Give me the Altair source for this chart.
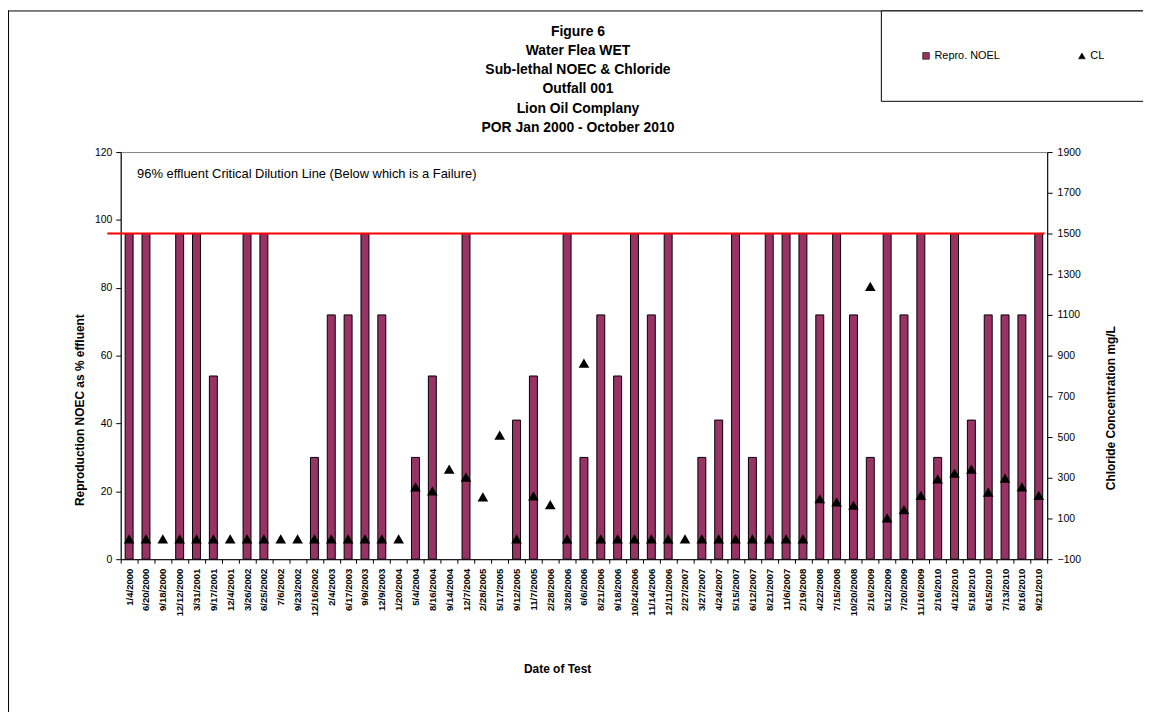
import altair as alt
import pandas as pd

# ---------------- data ----------------
dates = [
    "1/4/2000", "6/20/2000", "9/18/2000", "12/12/2000", "3/31/2001", "9/17/2001",
    "12/4/2001", "3/26/2002", "6/25/2002", "7/6/2002", "9/23/2002", "12/16/2002",
    "2/4/2003", "6/17/2003", "9/9/2003", "12/9/2003", "1/20/2004", "5/4/2004",
    "8/16/2004", "9/14/2004", "12/7/2004", "2/28/2005", "5/17/2005", "9/12/2005",
    "11/7/2005", "2/28/2006", "3/28/2006", "6/6/2006", "8/21/2006", "9/18/2006",
    "10/24/2006", "11/14/2006", "12/11/2006", "2/27/2007", "3/27/2007", "4/24/2007",
    "5/15/2007", "6/12/2007", "8/21/2007", "11/6/2007", "2/19/2008", "4/22/2008",
    "7/15/2008", "10/20/2008", "2/16/2009", "5/12/2009", "7/20/2009", "11/16/2009",
    "2/16/2010", "4/12/2010", "5/18/2010", "6/15/2010", "7/13/2010", "8/16/2010",
    "9/21/2010",
]
noec = [
    96, 96, None, 96, 96, 54,
    None, 96, 96, None, None, 30,
    72, 72, 96, 72, None, 30,
    54, None, 96, None, None, 41,
    54, None, 96, 30, 72, 54,
    96, 72, 96, None, 30, 41,
    96, 30, 96, 96, 96, 72,
    96, 72, 30, 96, 72, 96,
    30, 96, 41, 72, 72, 72,
    96,
]
chloride = [
    0, 0, 0, 0, 0, 0,
    0, 0, 0, 0, 0, 0,
    0, 0, 0, 0, 0, 255,
    235, 343, 303, 206, 509, 0,
    211, 168, 0, 863, 0, 0,
    0, 0, 0, 0, 0, 0,
    0, 0, 0, 0, 0, 197,
    181, 165, 1240, 103, 144, 213,
    295, 323, 343, 230, 298, 255,
    213,
]
series_names = ["Repro. NOEL", "CL"]
series_colors = ["#993366", "#000000"]
critical_line = [96]
left_ticks = [0, 20, 40, 60, 80, 100, 120]
right_ticks = [-100, 100, 300, 500, 700, 900, 1100, 1300, 1500, 1700, 1900]
title_lines = [
    "Figure 6",
    "Water Flea WET",
    "Sub-lethal NOEC & Chloride",
    "Outfall 001",
    "Lion Oil Complany",
    "POR  Jan 2000 - October 2010",
]
annotation = ["96% effluent Critical Dilution Line (Below which is a  Failure)"]
x_title = "Date of Test"
y_left_title = "Reproduction NOEC as % effluent"
y_right_title = "Chloride Concentration mg/L"

FONT = "Liberation Sans"
W, H = 933, 410
OX, OY = 121.5, 150.6          # plot origin on the page
PAD_L, PAD_T = OX - 8, OY - 8   # chart starts at the 8px page margin

df = pd.DataFrame({"date": dates, "noec": noec, "chloride": chloride})
bar_df = df.dropna(subset=["noec"]).assign(series=series_names[0])
pt_df = df.assign(series=series_names[1])

legend = alt.Legend(
    title=None, orient="none", legendX=887 - OX, legendY=8 - OY,
    direction="horizontal", columnPadding=76, padding=40,
    strokeColor="black", fillColor="white", cornerRadius=0,
    labelFont=FONT, labelFontSize=11, labelColor="black", labelOffset=3,
    symbolSize=45, symbolStrokeColor="black", symbolStrokeWidth=0.6,
)
color = alt.Color("series:N", scale=alt.Scale(domain=series_names, range=series_colors), legend=legend)
shape = alt.Shape("series:N", scale=alt.Scale(domain=series_names, range=["square", "triangle-up"]), legend=legend)

x_enc = alt.X(
    "date:N", sort=dates,
    scale=alt.Scale(paddingInner=0, paddingOuter=0),
    axis=alt.Axis(
        title=x_title, labelAngle=-90, labelFont=FONT, labelFontSize=9.6,
        labelFontWeight="bold", labelPadding=5, tickSize=4, tickBand="extent",
        titleFont=FONT, titleFontSize=12, titleFontWeight="bold",
        titleX=561 - OX, titleY=671 - (OY + H), titleBaseline="middle",
        titleAlign="center", labelLimit=0,
    ),
)

left_scale = alt.Scale(domain=[0, 120], nice=False, zero=False)
left_axis = alt.Axis(
    title=y_left_title, values=left_ticks, tickSize=5, labelPadding=4,
    labelFont=FONT, labelFontSize=10.5, titleFont=FONT, titleFontSize=12,
    titleFontWeight="bold", titleAngle=-90, titleX=-41, titleY=410 - OY,
    titleAlign="center", titleBaseline="middle", grid=False,
)

bars = alt.Chart(bar_df).mark_bar(size=8, stroke="black", strokeWidth=1).encode(
    x=x_enc,
    y=alt.Y("noec:Q", scale=left_scale, axis=left_axis),
    color=color,
)

rule = alt.Chart(pd.DataFrame({"noec": critical_line})).mark_rule(color="#FF0000", strokeWidth=2).encode(
    y=alt.Y("noec:Q", scale=left_scale, axis=left_axis),
    x=alt.value(108 - OX), x2=alt.value(1052 - OX),
)

ann = alt.Chart(pd.DataFrame({"t": annotation})).mark_text(
    align="left", baseline="middle", font=FONT, fontSize=13, color="black"
).encode(text="t:N", x=alt.value(138 - OX), y=alt.value(173 - OY))

left = alt.layer(bars, rule, ann)

points = alt.Chart(pt_df).mark_point(filled=True, size=115, opacity=1).encode(
    x=x_enc,
    y=alt.Y("chloride:Q", scale=alt.Scale(domain=[-100, 1900], nice=False, zero=False),
            axis=alt.Axis(
                title=y_right_title, orient="right", values=right_ticks, format="d",
                tickSize=5, labelPadding=5, labelFont=FONT, labelFontSize=10.5,
                titleFont=FONT, titleFontSize=12, titleFontWeight="bold",
                titleAngle=-90, titleX=1118 - (OX + W), titleY=408 - OY,
                titleAlign="center", titleBaseline="middle", grid=False,
            )),
    color=color,
    shape=shape,
)

title_txt = alt.Chart(pd.DataFrame({"t": ["\n".join(title_lines)]})).mark_text(
    align="center", baseline="alphabetic", font=FONT, fontSize=14, fontWeight="bold",
    lineBreak="\n", lineHeight=19.4, color="black",
).encode(text="t:N", x=alt.value(582 - OX), y=alt.value(33.3 - OY))

frame_top = alt.Chart(pd.DataFrame({"t": [0]})).mark_rule(color="black", strokeWidth=1).encode(
    x=alt.value(-PAD_L), x2=alt.value(W + 200), y=alt.value(-PAD_T + 0.5)
)
frame_left = alt.Chart(pd.DataFrame({"t": [0]})).mark_rule(color="black", strokeWidth=1).encode(
    x=alt.value(-PAD_L + 0.5), y=alt.value(-PAD_T), y2=alt.value(H + 200)
)

chart = alt.layer(left, points, title_txt, frame_top, frame_left).resolve_scale(
    y="independent"
).properties(
    width=W, height=H,
    autosize=alt.AutoSizeParams(type="none"),
    padding={"left": PAD_L, "top": PAD_T, "right": 1143 - PAD_L - W, "bottom": 704 - PAD_T - H},
).configure_view(stroke="#808080", strokeWidth=1).configure_axis(
    domainColor="black", tickColor="black", labelColor="black", titleColor="black",
    domainWidth=1, tickWidth=1,
)

chart.save("out.html", embed_options={"renderer": "svg", "actions": False})
